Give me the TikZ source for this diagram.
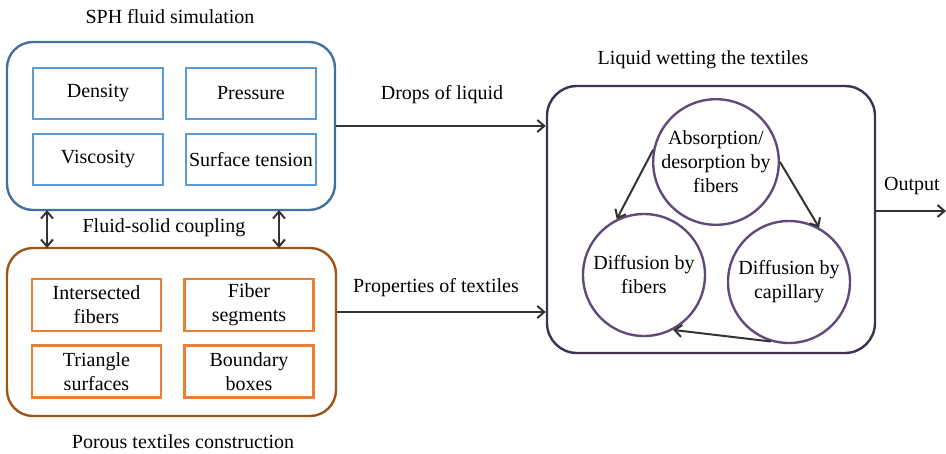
\documentclass[tikz,border=0pt]{standalone}
\usepackage{fontspec}
\newfontfamily\tms{Liberation Serif}
\usetikzlibrary{arrows.meta}
\definecolor{bluedark}{HTML}{41719C}
\definecolor{bluelight}{HTML}{5B9BD5}
\definecolor{orangedark}{HTML}{9C5418}
\definecolor{orangelight}{HTML}{ED7D31}
\definecolor{purpdark}{HTML}{3F3151}
\definecolor{purpcirc}{HTML}{604A7B}
\definecolor{arr}{HTML}{333333}
\begin{document}
\begin{tikzpicture}[x=1pt,y=-1pt,
  every node/.style={font=\tms\fontsize{20}{24}\selectfont, inner sep=0pt},
  outerbox/.style={draw, line width=2.4pt, rounded corners=26pt},
  bluebox/.style={draw=bluelight, line width=2.4pt, minimum width=130pt, minimum height=51pt, align=center},
  orbox/.style={draw=orangelight, line width=2.4pt, minimum width=129pt, minimum height=52pt, align=center},
  circ/.style={draw=purpcirc, line width=2.4pt, circle, minimum size=122pt, align=center},
  arrow/.style={draw=arr, line width=2pt, -{Straight Barb[length=7pt,width=12pt]}},
  darrow/.style={draw=arr, line width=2pt, {Straight Barb[length=7pt,width=12pt]}-{Straight Barb[length=7pt,width=12pt]}},
  lbl/.style={}
]
\useasboundingbox (0,0) rectangle (946,453);
% SPH box
\node[outerbox, draw=bluedark, minimum width=328pt, minimum height=168pt] (sph) at (171,126) {};
\node[lbl] (sphT) at (170,17) {SPH fluid simulation};
\node[bluebox] (dens) at (98,93.5) {Density};
\node[bluebox] (pres) at (251,93.5) {Pressure};
\node[bluebox] (visc) at (98,159.5) {Viscosity};
\node[bluebox] (surf) at (251,159.5) {Surface tension};
% Textiles box
\node[outerbox, draw=orangedark, minimum width=329pt, minimum height=168pt] (tex) at (171.5,332) {};
\node[lbl] (texT) at (183,442) {Porous textiles construction};
\node[orbox] (inter) at (96.5,305) {Intersected\\fibers};
\node[orbox] (fiber) at (249,305) {Fiber\\segments};
\node[orbox] (tri) at (96.5,371.5) {Triangle\\surfaces};
\node[orbox] (bound) at (249,371.5) {Boundary\\boxes};
% coupling
\node[lbl] (coup) at (164,228) {Fluid-solid coupling};
\coordinate (c1a) at (47,210); \coordinate (c1b) at (47,248);
\coordinate (c2a) at (279,210); \coordinate (c2b) at (279,248);
\draw[darrow] (c1a) -- (c1b);
\draw[darrow] (c2a) -- (c2b);
% Liquid wetting box
\node[outerbox, draw=purpdark, rounded corners=30pt, minimum width=328pt, minimum height=267pt] (wet) at (711,219.5) {};
\node[lbl] (wetT) at (703,60) {Liquid wetting the textiles};
\node[circ] (abs) at (716,162) {Absorption/\\desorption by\\fibers};
\node[circ] (dfib) at (644,275) {Diffusion by\\fibers};
\node[circ] (dcap) at (789,282) {Diffusion by\\capillary};
\draw[arrow] (abs.169) -- (dfib.116);
\draw[arrow] (abs.0) -- (dcap.61);
\draw[arrow] (dcap.253) -- (dfib.298);
% connectors between boxes
\draw[arrow] (sph.east |- 0,126) -- (wet.west |- 0,126);
\node[lbl] (drops) at (442,95) {Drops of liquid};
\draw[arrow] (tex.east |- 0,312) -- (wet.west |- 0,312);
\node[lbl] (props) at (436,288) {Properties of textiles};
\coordinate (outEnd) at (946,211);
\draw[arrow] (wet.east |- outEnd) -- (outEnd);
\node[lbl] (out) at (912,186) {Output};
\end{tikzpicture}
\end{document}
